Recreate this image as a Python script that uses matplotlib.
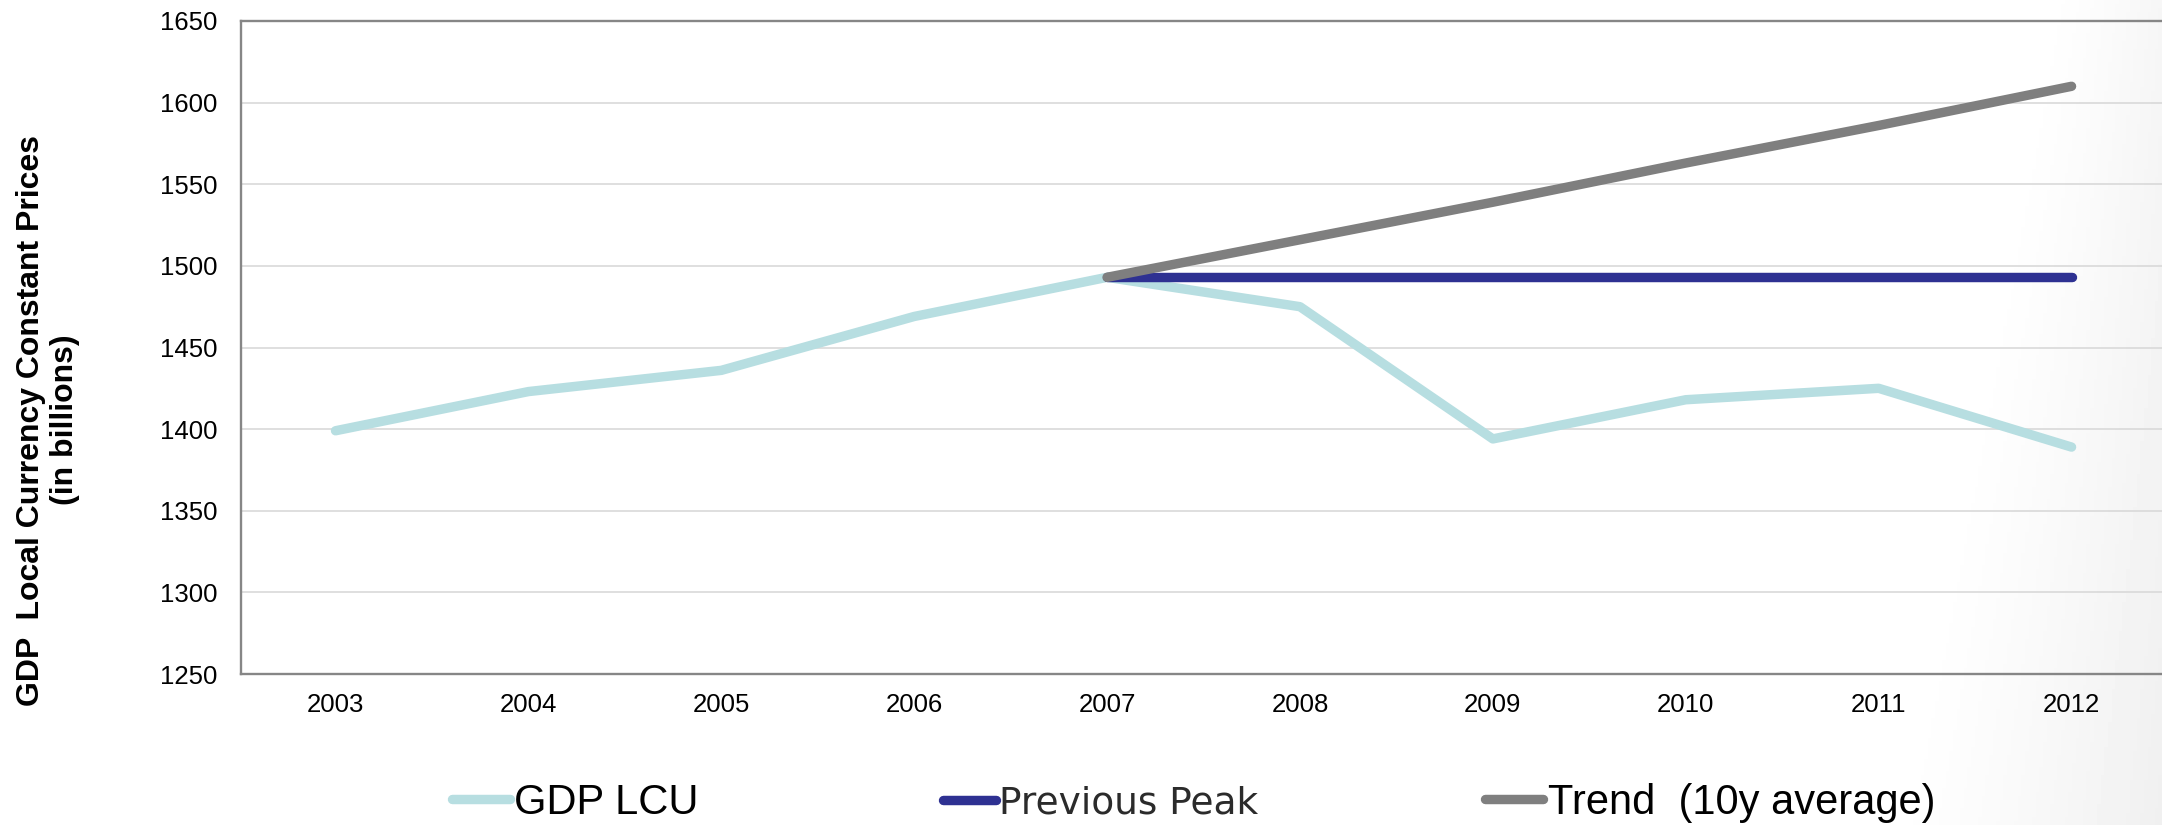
import numpy as np
import matplotlib
matplotlib.use("Agg")
import matplotlib.pyplot as plt
from matplotlib.lines import Line2D

plt.rcParams['font.family'] = ['Liberation Sans', 'DejaVu Sans']

years = ['2003', '2004', '2005', '2006', '2007', '2008', '2009', '2010', '2011', '2012']
gdp_lcu = [1399, 1423, 1436, 1469, 1493, 1475, 1394, 1418, 1425, 1389]
peak_years = ['2007', '2008', '2009', '2010', '2011', '2012']
previous_peak = [1493, 1493, 1493, 1493, 1493, 1493]
trend = [1493, 1516, 1539, 1563, 1586, 1610]

c_gdp = '#B7DEE1'
c_peak = '#2E3192'
c_trend = '#7F7F7F'

W, H = 2162, 825
fig = plt.figure(figsize=(W / 100, H / 100), dpi=100)

# soft grey shading in the right-hand corner of the slide
bg = fig.add_axes([0, 0, 1, 1], zorder=-10)
gx = np.linspace(0, 1, 600)
gy = np.linspace(0, 1, 200)
X, Y = np.meshgrid(gx, gy)
x0 = 0.945 - 0.075 * Y
amp = 0.035 + 0.025 * Y
shade = np.clip((X - x0) / (1 - x0), 0, 1) ** 1.3 * amp
bg.imshow(1 - shade, cmap='gray', vmin=0, vmax=1, aspect='auto',
          extent=[0, 1, 0, 1], origin='upper')
bg.set_axis_off()

left, right = 241, 2168
top, bottom = 21, 674
ax = fig.add_axes([left / W, 1 - bottom / H, (right - left) / W, (bottom - top) / H])
ax.patch.set_alpha(0)

xi = np.arange(len(years))
xp = np.array([years.index(y) for y in peak_years])

ax.plot(xi, gdp_lcu, color=c_gdp, lw=6.8, solid_capstyle='round',
        solid_joinstyle='round', zorder=3)
ax.plot(xp, previous_peak, color=c_peak, lw=6.8, solid_capstyle='round', zorder=4)
ax.plot(xp, trend, color=c_trend, lw=6.8, solid_capstyle='round', zorder=5)

ax.set_xlim(-0.49, 9.5)
ax.set_ylim(1250, 1650)
ax.set_yticks(np.arange(1250, 1651, 50))
ax.set_xticks(xi)
ax.set_xticklabels(years)
ax.tick_params(axis='both', length=0, labelsize=18.5)
ax.tick_params(axis='x', pad=14)
ax.tick_params(axis='y', pad=17)
ax.grid(axis='y', color='#D9D9D9', lw=1.2)
ax.set_axisbelow(True)
for s in ax.spines.values():
    s.set_color('#868686')
    s.set_linewidth(1.7)

fig.text(48 / W, 1 - 420 / H, 'GDP  Local Currency Constant Prices\n(in billions)',
         rotation=90, ha='center', va='center', multialignment='center',
         fontsize=23, fontweight='bold')

# legend entries sit at their own spots along the bottom
entries = [
    ('GDP LCU', c_gdp, 452, {'size': 30}),
    ('Previous Peak', c_peak, 943, {'family': 'DejaVu Sans', 'size': 27}),
    ('Trend  (10y average)', c_trend, 1485, {'size': 30}),
]
for label, col, x0, font in entries:
    h = Line2D([], [], color=col, lw=6.8, solid_capstyle='round')
    leg = fig.legend([h], [label], loc='center left',
                     bbox_to_anchor=(x0 / W, 1 - 803 / H), frameon=False,
                     borderpad=0, borderaxespad=0, handlelength=1.4,
                     handletextpad=0.1, prop=font)
    if label == 'Previous Peak':
        leg.get_texts()[0].set_color('#2B2B2B')

fig.savefig('out.png', dpi=100)
